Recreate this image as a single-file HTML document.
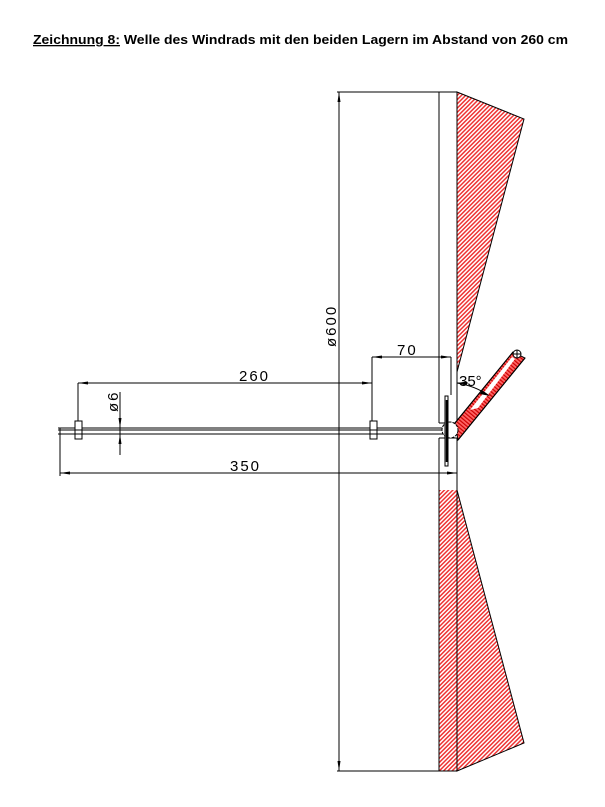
<!DOCTYPE html>
<html><head><meta charset="utf-8"><style>
html,body{margin:0;padding:0;background:#fff;}
svg{display:block}
</style></head><body>
<svg width="605" height="807" viewBox="0 0 605 807" xmlns="http://www.w3.org/2000/svg">
<defs>
<pattern id="h" width="3" height="3" patternUnits="userSpaceOnUse" patternTransform="rotate(45)">
<rect width="3" height="3" fill="#fff"/>
<rect width="1.5" height="3" fill="#e33"/>
</pattern>
<pattern id="b" width="3" height="3" patternUnits="userSpaceOnUse" patternTransform="rotate(-50)">
<rect width="3" height="3" fill="#f66"/>
<rect width="1.2" height="3" fill="#c00"/>
</pattern>
</defs>
<text x="33" y="44" font-family="Liberation Sans, sans-serif" font-weight="bold" font-size="13" textLength="535" lengthAdjust="spacingAndGlyphs"><tspan text-decoration="underline">Zeichnung 8:</tspan> Welle des Windrads mit den beiden Lagern im Abstand von 260 cm</text>
<g stroke="#000" stroke-width="1" fill="none">
<polygon points="457,92 524,119 457,372" fill="url(#h)"/>
<polygon points="457,771 524,743 457,490" fill="url(#h)"/>
<rect x="439" y="490" width="18" height="281" fill="url(#h)" stroke="none"/>
<line x1="337" y1="92" x2="457" y2="92"/>
<line x1="337" y1="771" x2="457" y2="771"/>
<line x1="439" y1="92" x2="439" y2="423"/>
<line x1="457" y1="92" x2="457" y2="423"/>
<line x1="439" y1="423" x2="457" y2="423"/>
<line x1="439" y1="438" x2="439" y2="771"/>
<line x1="457" y1="438" x2="457" y2="771"/>
<line x1="439" y1="438" x2="457" y2="438"/>
<line x1="339" y1="92" x2="339" y2="771"/>
<line x1="58" y1="428" x2="450" y2="428"/>
<line x1="58" y1="430" x2="450" y2="430"/>
<line x1="58" y1="434" x2="450" y2="434"/>
<line x1="60" y1="428" x2="60" y2="434"/>
<rect x="75" y="421" width="7" height="18" fill="#fff"/>
<line x1="75" y1="430" x2="82" y2="430"/>
<line x1="75" y1="434" x2="82" y2="434"/>
<rect x="370" y="421" width="7" height="18" fill="#fff"/>
<line x1="370" y1="430" x2="377" y2="430"/>
<line x1="370" y1="434" x2="377" y2="434"/>
<line x1="78" y1="383" x2="372" y2="383"/>
<line x1="78" y1="383" x2="78" y2="421"/>
<line x1="372" y1="357" x2="372" y2="421"/>
<line x1="372" y1="357" x2="451" y2="357"/>
<line x1="451" y1="357" x2="451" y2="395"/>
<line x1="60" y1="473" x2="457" y2="473"/>
<line x1="60" y1="434" x2="60" y2="476"/>
<line x1="120" y1="392" x2="120" y2="455"/>
<polygon points="455,423 513,352 525,358 458,440" fill="url(#b)"/>
<polygon points="470,410 512,357 515,359 478,408" fill="#fff" stroke="none"/>
<line x1="455" y1="423" x2="513" y2="352"/>
<line x1="458" y1="440" x2="525" y2="358"/>
<circle cx="517" cy="354" r="4" fill="#fff"/>
<line x1="513" y1="354" x2="521" y2="354"/>
<line x1="517" y1="350" x2="517" y2="358"/>
<circle cx="450" cy="430" r="8" fill="#fff" stroke-dasharray="3,1"/>
<rect x="445" y="396" width="3" height="70" fill="#fff"/>
<line x1="447" y1="400" x2="447" y2="462" stroke-width="2.5"/>
<line x1="457" y1="383" x2="468" y2="383"/>
<path d="M457,383 Q475,386 488,395"/>
</g>
<g fill="#000">
<polygon points="78,383 88,381.5 88,384.5"/>
<polygon points="60,473 70,471.5 70,474.5"/>
<polygon points="451,357 441,355.5 441,358.5"/>
<polygon points="372,357 382,355.5 382,358.5"/>
<polygon points="372,383 362,381.5 362,384.5"/>
<polygon points="457,473 447,471.5 447,474.5"/>
<polygon points="339,92 337.5,102 340.5,102"/>
<polygon points="339,771 337.5,761 340.5,761"/>
<polygon points="120,428 118.5,418 121.5,418"/>
<polygon points="120,434 118.5,444 121.5,444"/>
<polygon points="457,383 467,381.5 467,384.5"/>
<polygon points="490,396 482,390 480,394"/>
</g>
<g font-family="Liberation Sans, sans-serif" font-size="15" fill="#000">
<text x="239" y="381" letter-spacing="2">260</text>
<text x="230" y="471" letter-spacing="2">350</text>
<text x="397" y="355" letter-spacing="2">70</text>
<text x="459" y="386">35°</text>
<text transform="translate(336,347) rotate(-90)" letter-spacing="2">ø600</text>
<text transform="translate(118,412) rotate(-90)" letter-spacing="2">ø6</text>
</g>
</svg>
</body></html>
